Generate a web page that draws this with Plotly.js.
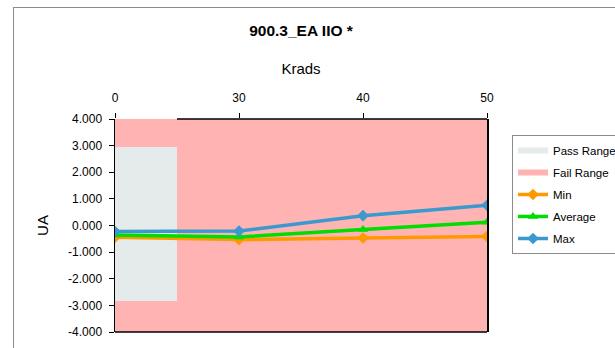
<!DOCTYPE html>
<html>
<head>
<meta charset="utf-8">
<script src="https://cdn.plot.ly/plotly-3.0.1.min.js"></script>
<style>
html,body{margin:0;padding:0;background:#fff;overflow:hidden;}
#wrap{position:relative;width:615px;height:348px;overflow:hidden;}
#chart{position:absolute;left:0;top:0;width:615px;height:348px;}
#frame{position:absolute;left:13px;top:7px;width:620px;height:360px;border-left:1px solid #8c8c8c;border-top:1px solid #8c8c8c;pointer-events:none;}
</style>
</head>
<body>
<div id="wrap"><div id="chart"></div><div id="frame"></div></div>
<script>
const categories = ['0', '30', '40', '50'];
const minVals = [-0.44, -0.53, -0.47, -0.41];
const avgVals = [-0.36, -0.43, -0.15, 0.12];
const maxVals = [-0.23, -0.21, 0.37, 0.76];
const passLow = [-2.85, null, null, null];
const passHigh = [2.95, null, null, null];
const failLow = [-4, -4, -4, -4];
const failHigh = [4, 4, 4, 4];
const yTicks = [4, 3, 2, 1, 0, -1, -2, -3, -4];

const font = 'Liberation Sans, Arial, sans-serif';
const passColor = '#E5EAEA';
const failColor = '#FFB3B3';

const traces = [
  {
    type: 'bar', name: 'Fail Range', legendgroup: 'fail', showlegend: false, x: categories,
    base: failLow, y: failHigh.map((h, i) => h - failLow[i]),
    width: 1, marker: {color: failColor, line: {width: 0}}, hoverinfo: 'skip'
  },
  {
    type: 'bar', name: 'Pass Range', legendgroup: 'pass', showlegend: false, x: categories,
    base: passLow, y: passHigh.map((h, i) => h === null ? null : h - passLow[i]),
    width: 1, marker: {color: passColor, line: {width: 0}}, hoverinfo: 'skip'
  },
  {
    type: 'scatter', mode: 'none', name: 'Pass Range', legendgroup: 'pass', legendrank: 1,
    x: [null], y: [null], fill: 'toself', fillcolor: passColor
  },
  {
    type: 'scatter', mode: 'none', name: 'Fail Range', legendgroup: 'fail', legendrank: 2,
    x: [null], y: [null], fill: 'toself', fillcolor: failColor
  },
  {
    type: 'scatter', mode: 'lines+markers', name: 'Min', legendgroup: 'min', legendrank: 3,
    x: categories, y: minVals,
    line: {color: '#FF9900', width: 3.5}, marker: {symbol: 'diamond', size: 9, color: '#FF9900'}
  },
  {
    type: 'scatter', mode: 'lines+markers', name: 'Average', legendgroup: 'avg', legendrank: 4,
    x: categories, y: avgVals,
    line: {color: '#00DD00', width: 3.5}, marker: {symbol: 'triangle-up', size: 9, color: '#00DD00'}
  },
  {
    type: 'scatter', mode: 'lines+markers', name: 'Max', legendgroup: 'max', legendrank: 5,
    x: categories, y: maxVals,
    line: {color: '#3A9AD0', width: 3.5}, marker: {symbol: 'diamond', size: 9, color: '#3A9AD0'}
  }
];

const layout = {
  width: 615, height: 348,
  margin: {l: 115, r: 128, t: 119, b: 16, autoexpand: false},
  paper_bgcolor: '#ffffff', plot_bgcolor: '#ffffff',
  font: {family: font, size: 12, color: '#000'},
  barmode: 'overlay', bargap: 0,
  showlegend: true,
  title: {text: '<b>900.3_EA IIO *</b>', font: {family: font, size: 15.5, color: '#000'},
          x: 0.5, xref: 'paper', y: 1 - 30.5/348, yanchor: 'middle', xanchor: 'center'},
  xaxis: {
    type: 'category', categoryorder: 'array', categoryarray: categories,
    side: 'top', range: [0, 3], showgrid: false, zeroline: false,
    showline: false,
    ticks: 'outside', ticklen: 5, tickcolor: '#000', tickwidth: 1,
    ticklabelstandoff: 6,
    tickfont: {family: font, size: 12},
    title: {text: 'Krads', font: {family: font, size: 15}, standoff: 12}
  },
  yaxis: {
    range: [-4, 4], tickvals: yTicks, ticktext: yTicks.map(v => v.toFixed(3)),
    showgrid: false, zeroline: false,
    showline: true, linecolor: '#000', linewidth: 1.5, mirror: true,
    ticks: 'outside', ticklen: 5, tickcolor: '#000',
    ticklabelstandoff: 4,
    tickfont: {family: font, size: 12},
    title: {text: 'UA', font: {family: font, size: 15}, standoff: 16}
  },
  shapes: [
    {type: 'line', xref: 'paper', yref: 'paper', x0: 0, x1: 1, y0: 0, y1: 0,
     line: {color: '#000', width: 1.5}},
    {type: 'line', xref: 'x', yref: 'paper', x0: 0.5, x1: 3, y0: 1, y1: 1,
     line: {color: '#000', width: 1.5}}
  ],
  legend: {
    x: (512 - 115) / 372, y: (332 - 135) / 213, xanchor: 'left', yanchor: 'top',
    bgcolor: '#ffffff', bordercolor: '#8c8c8c', borderwidth: 1,
    font: {family: font, size: 11.5}, traceorder: 'grouped', tracegroupgap: 3, itemwidth: 30
  }
};

Plotly.newPlot('chart', traces, layout, {displayModeBar: false, staticPlot: true});
</script>
</body>
</html>
